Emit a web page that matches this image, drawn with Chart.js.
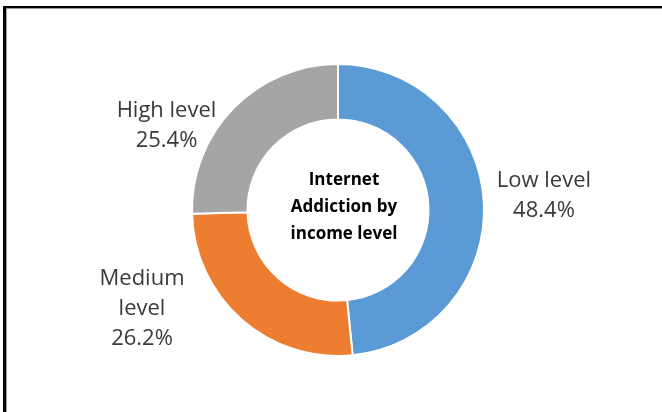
<!DOCTYPE html>
<html>
<head>
<meta charset="utf-8">
<script src="https://cdn.jsdelivr.net/npm/chart.js@4"></script>
<style>
  html, body { margin: 0; padding: 0; background: #fff; }
  #wrap { position: relative; width: 662px; height: 412px; overflow: hidden; }
  #frame {
    position: absolute; left: 3px; top: 6px; width: 700px; height: 450px;
    border-top: 2px solid #000; border-left: 3px solid #000;
    box-shadow: inset 1px 1px 0 #9a9a9a;
  }
  #myChart { position: absolute; left: 0; top: 0; }
</style>
</head>
<body>
<div id="wrap">
  <div id="frame"></div>
  <canvas id="myChart" width="662" height="412"></canvas>
</div>
<script>
const categories = ['Low level', 'Medium level', 'High level'];
const shares = [48.4, 26.2, 25.4];
// how each category name is broken over lines next to the ring
const labelLines = [['Low level'], ['Medium', 'level'], ['High level']];
const sliceColors = ['#5B9BD5', '#ED7D31', '#A5A5A5'];
const centerTitle = ['Internet', 'Addiction by', 'income level'];

// label placement around the ring: distance (x outer radius) and angle nudge in degrees
const labelPlace = [
  { k: 1.414, nudge: -1 },
  { k: 1.504, nudge: 21.8 },
  { k: 1.31, nudge: -18 }
];

const sliceLabels = {
  id: 'sliceLabels',
  afterDatasetsDraw(chart) {
    const c = chart.ctx;
    const arcs = chart.getDatasetMeta(0).data;
    c.save();
    c.font = '22px "Open Sans", sans-serif';
    c.fillStyle = '#3a3a3a';
    c.textAlign = 'center';
    c.textBaseline = 'middle';
    arcs.forEach((arc, i) => {
      const p = arc.getProps(['x', 'y', 'startAngle', 'endAngle', 'outerRadius'], true);
      const mid = (p.startAngle + p.endAngle) / 2 + labelPlace[i].nudge * Math.PI / 180;
      const r = p.outerRadius * labelPlace[i].k;
      const cx = p.x + Math.cos(mid) * r;
      const cy = p.y + Math.sin(mid) * r;
      const lines = labelLines[i].concat([shares[i].toFixed(1) + '%']);
      const lh = 30;
      const top = cy - (lines.length - 1) * lh / 2;
      lines.forEach((t, j) => c.fillText(t, cx, top + j * lh));
    });

    // title inside the hole
    const a = arcs[0];
    c.font = 'bold 17px "Open Sans", sans-serif';
    c.fillStyle = '#000';
    const lh = 27;
    const top = a.y - (centerTitle.length - 1) * lh / 2 - 3;
    centerTitle.forEach((t, j) => c.fillText(t, a.x + 6, top + j * lh));
    c.restore();
  }
};

new Chart(document.getElementById('myChart'), {
  type: 'doughnut',
  data: {
    labels: categories,
    datasets: [{
      data: shares,
      backgroundColor: sliceColors,
      borderColor: '#fff',
      borderWidth: 2
    }]
  },
  options: {
    responsive: false,
    animation: false,
    cutout: '62%',
    layout: { padding: { left: 191, right: 177, top: 63, bottom: 55 } },
    plugins: {
      legend: { display: false },
      tooltip: { enabled: false }
    }
  },
  plugins: [sliceLabels]
});
</script>
</body>
</html>
